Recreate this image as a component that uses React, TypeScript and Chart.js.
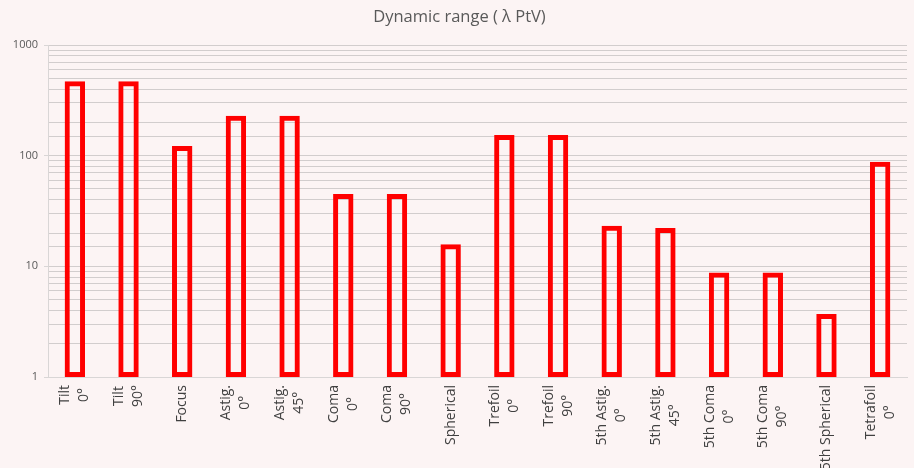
import React, { useEffect, useRef } from "react";
import { Chart, registerables } from "chart.js";

Chart.register(...registerables);

const categories: string[][] = [
  ["Tilt", "0°"],
  ["Tilt", "90°"],
  ["Focus"],
  ["Astig.", "0°"],
  ["Astig.", "45°"],
  ["Coma", "0°"],
  ["Coma", "90°"],
  ["Spherical"],
  ["Trefoil", "0°"],
  ["Trefoil", "90°"],
  ["5th Astig.", "0°"],
  ["5th Astig.", "45°"],
  ["5th Coma", "0°"],
  ["5th Coma", "90°"],
  ["5th Spherical"],
  ["Tetrafoil", "0°"],
];

const dynamicRange: number[] = [470, 470, 122, 230, 230, 45, 45, 15.8, 154, 154, 23.3, 22.2, 8.8, 8.8, 3.7, 88];

const majorTicks: number[] = [1, 10, 100, 1000];

const titleText = "Dynamic range ( λ PtV)";

const BG = "#fcf4f4";
const GRID = "#d2cdcd";
const AXIS = "#d9d6d6";
const FONT = "'Open Sans', 'DejaVu Sans', sans-serif";
const XFONT_SIZE = 14;
const XLINE_H = 19;

const bgPlugin = {
  id: "bgFill",
  beforeDraw(chart: any) {
    const { ctx, width, height } = chart;
    ctx.save();
    ctx.fillStyle = BG;
    ctx.fillRect(0, 0, width, height);
    ctx.restore();
  },
};

// Category labels: rotated, lines centred on each other, block centred on the tick
const xLabelPlugin = {
  id: "xLabels",
  afterDraw(chart: any) {
    const xScale = chart.scales.x;
    const { ctx } = chart;
    ctx.save();
    ctx.font = `${XFONT_SIZE}px ${FONT}`;
    ctx.fillStyle = "#404040";
    ctx.textAlign = "center";
    ctx.textBaseline = "middle";
    const lbls = chart.data.labels as string[][];
    lbls.forEach((lines, i) => {
      const x = xScale.getPixelForTick(i);
      const maxW = Math.max(...lines.map((l) => ctx.measureText(l).width));
      const top = xScale.top + 8;
      ctx.save();
      ctx.translate(x, top + maxW / 2);
      ctx.rotate(-Math.PI / 2);
      lines.forEach((l, j) => {
        ctx.fillText(l, 0, (j - (lines.length - 1) / 2) * XLINE_H);
      });
      ctx.restore();
    });
    ctx.restore();
  },
};

export default function App() {
  const ref = useRef<HTMLCanvasElement | null>(null);

  useEffect(() => {
    if (!ref.current) return;
    const chart = new Chart(ref.current, {
      type: "bar",
      data: {
        labels: categories,
        datasets: [
          {
            data: dynamicRange,
            backgroundColor: "rgba(0,0,0,0)",
            borderColor: "#ff0000",
            borderWidth: 5,
            borderSkipped: false,
            barPercentage: 0.38,
            categoryPercentage: 1,
          },
        ],
      },
      options: {
        responsive: false,
        animation: false,
        layout: { padding: { left: 12, right: 7, top: 0, bottom: 0 } },
        plugins: {
          legend: { display: false },
          tooltip: { enabled: false },
          title: {
            display: true,
            text: titleText,
            color: "#595959",
            font: { family: FONT, size: 16.5, weight: "normal", lineHeight: 1.2 },
            padding: { top: 7, bottom: 18.2 },
          },
        },
        scales: {
          x: {
            grid: { display: false, drawTicks: false },
            border: { display: true, color: AXIS, width: 1 },
            ticks: { display: false },
            afterFit(scale: any) {
              scale.height = 91;
            },
          },
          y: {
            type: "logarithmic",
            min: 1,
            max: 1000,
            grid: {
              color: GRID,
              lineWidth: 1,
              tickLength: 4,
              tickColor: (ctx: any) =>
                ctx.tick && majorTicks.includes(ctx.tick.value) ? AXIS : "rgba(0,0,0,0)",
            },
            border: { display: true, color: AXIS, width: 1 },
            ticks: {
              autoSkip: false,
              padding: 6,
              color: "#595959",
              font: { family: FONT, size: 11 },
              callback: (value: any) => (majorTicks.includes(Number(value)) ? String(value) : ""),
            },
            afterFit(scale: any) {
              scale.width = 36;
            },
          },
        },
      },
      plugins: [bgPlugin, xLabelPlugin],
    });
    return () => chart.destroy();
  }, []);

  return (
    <div style={{ position: "fixed", left: 0, top: 0, width: 914, height: 468 }}>
      <canvas ref={ref} width={914} height={468} />
    </div>
  );
}
